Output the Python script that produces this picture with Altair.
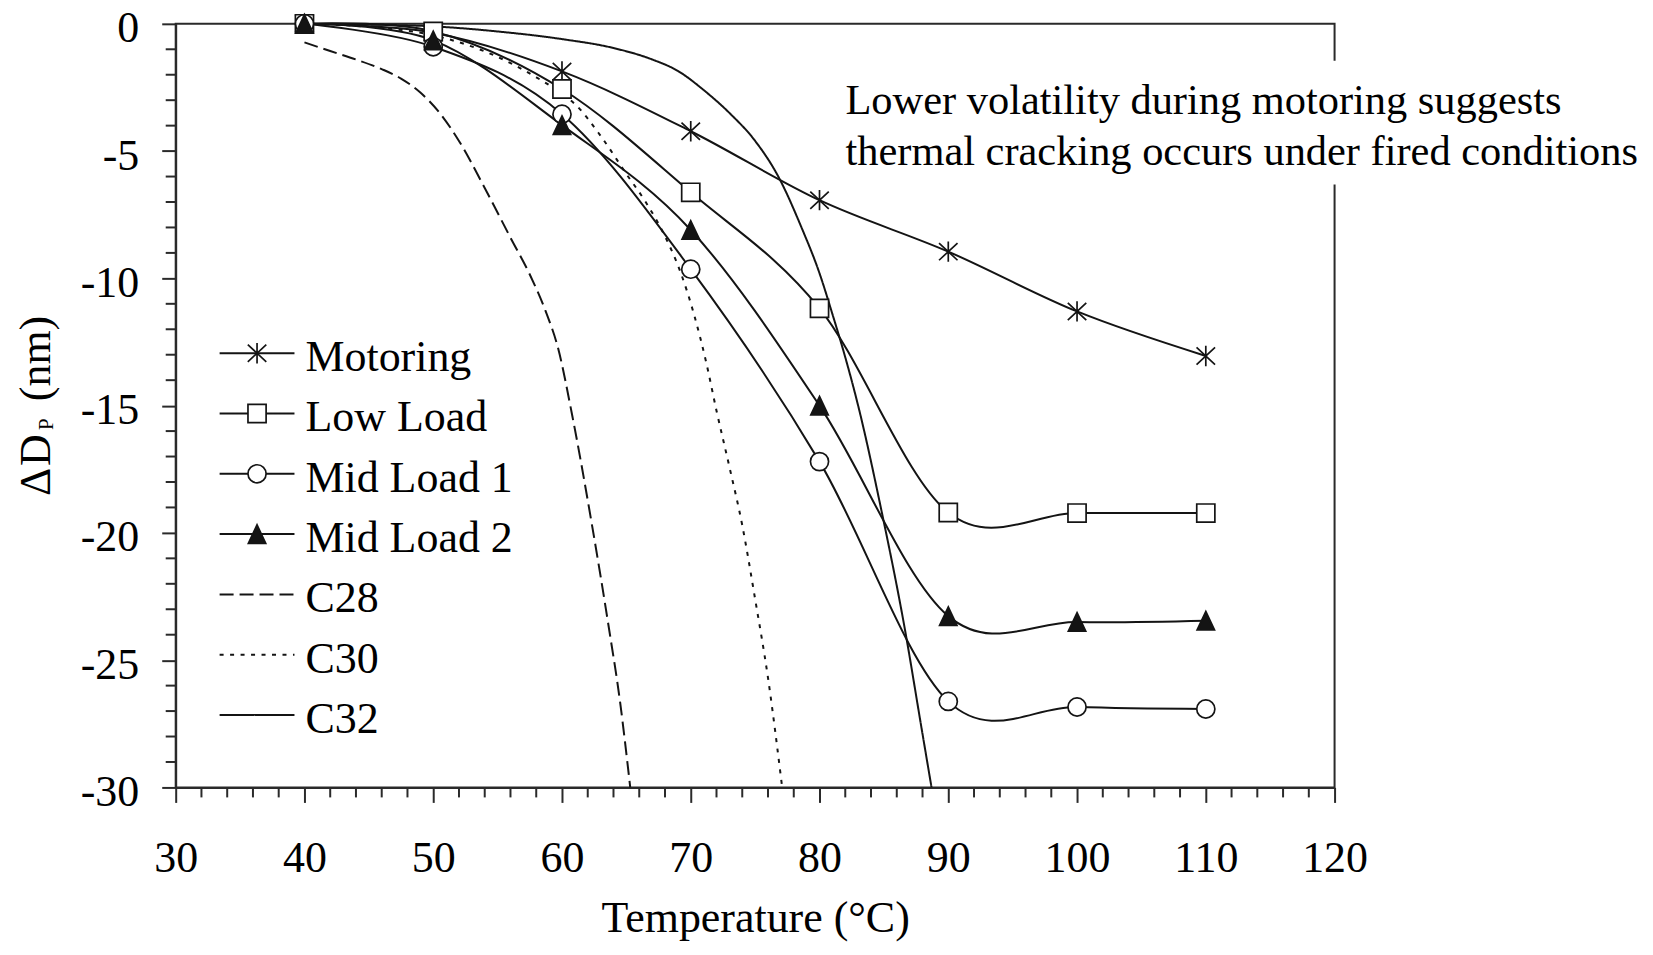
import altair as alt
import pandas as pd

# ---------------- data ----------------
temps = [40, 50, 60, 70, 80, 90, 100, 110]
motoring = [0, -0.35, -1.87, -4.22, -6.93, -8.95, -11.3, -13.05]
low_load = [0, -0.3, -2.56, -6.62, -11.18, -19.2, -19.22, -19.22]
mid_load_1 = [0, -0.9, -3.55, -9.64, -17.2, -26.62, -26.84, -26.92]
mid_load_2 = [0, -0.65, -3.98, -8.1, -15.0, -23.27, -23.5, -23.45]
measured_names = ["Motoring", "Low Load", "Mid Load 1", "Mid Load 2"]

c28_t = [40, 42, 44, 46, 47.5, 49, 50.5, 52, 54, 56, 57.5, 58.7, 59.7, 60.8, 62.3, 63.6, 64.5, 65.3]
c28_v = [-0.73, -1.07, -1.4, -1.78, -2.15, -2.7, -3.5, -4.6, -6.45, -8.4, -9.85, -11.25, -12.75, -15.4, -19.6, -23.6, -26.6, -30]
c30_t = [40, 45, 50, 55, 58, 60, 61, 63, 65, 66.5, 68, 69.2, 70.3, 71.2, 72, 73, 74, 75, 76, 77.1]
c30_v = [0, -0.12, -0.45, -1.3, -2.1, -2.75, -3.15, -4.4, -5.9, -7.0, -8.35, -9.75, -11.5, -13.3, -15.2, -17.4, -19.7, -22.6, -25.7, -30]
c32_t = [40, 45, 50, 55, 60, 64, 67, 69, 71, 73, 75, 76.8, 78.6, 80, 81, 82, 83, 84.8, 86.6, 87.9, 88.7]
c32_v = [0, -0.03, -0.1, -0.3, -0.6, -0.95, -1.4, -1.85, -2.6, -3.5, -4.6, -6.0, -8.0, -9.8, -11.4, -13.1, -15.0, -19.1, -23.7, -27.6, -30]
model_names = ["C28", "C30", "C32"]

x_ticks = [30, 40, 50, 60, 70, 80, 90, 100, 110, 120]
y_ticks = [-30, -25, -20, -15, -10, -5, 0]

x_title = "Temperature (°C)"
note_lines = ["Lower volatility during motoring suggests",
              "thermal cracking occurs under fired conditions"]

# ---------------- tables ----------------
meas_rows = []
for name, vals in zip(measured_names, [motoring, low_load, mid_load_1, mid_load_2]):
    for t, v in zip(temps, vals):
        meas_rows.append({"T": t, "V": v, "name": name})
meas = pd.DataFrame(meas_rows)

model_rows = []
for name, ts, vs in zip(model_names, [c28_t, c30_t, c32_t], [c28_v, c30_v, c32_v]):
    for i, (t, v) in enumerate(zip(ts, vs)):
        model_rows.append({"T": t, "V": v, "name": name, "i": i})
model = pd.DataFrame(model_rows)

# ---------------- layout / style ----------------
W, H = 1161, 765
XD, YD = [30, 120], [-30, 0]
pxT = W / (XD[1] - XD[0])
pxV = H / (YD[1] - YD[0])
FONT = "Liberation Serif"
AX = "#2a2a2a"
LINE = "#141414"

all_names = measured_names + model_names
leg_rows = []
for i, name in enumerate(all_names):
    ypx = 330 + 60.4 * i
    leg_rows.append({
        "name": name,
        "T": XD[0] + 44 / pxT,
        "T2": XD[0] + 119 / pxT,
        "Tm": XD[0] + 81.5 / pxT,
        "Tt": XD[0] + 130 / pxT,
        "V": -ypx / pxV,
    })
leg = pd.DataFrame(leg_rows)

xs = alt.Scale(domain=XD, nice=False, zero=False)
ys = alt.Scale(domain=YD, nice=False, zero=False)

x_axis = alt.Axis(values=x_ticks, tickSize=15, tickWidth=2, tickColor=AX,
                  domainColor=AX, domainWidth=2, grid=False,
                  labelFont=FONT, labelFontSize=44, labelColor="black",
                  labelPadding=34, labelAngle=0, labelFlush=False,
                  labelOverlap=False, labelBound=False,
                  title=x_title, titleFont=FONT, titleFontSize=44,
                  titleFontWeight="normal", titleColor="black",
                  titleBaseline="alphabetic", titleY=144)
y_axis = alt.Axis(values=y_ticks, tickSize=14, tickWidth=2, tickColor=AX,
                  domainColor=AX, domainWidth=2, grid=False,
                  labelFont=FONT, labelFontSize=44, labelColor="black",
                  labelPadding=23, labelOffset=5, labelFlush=False,
                  labelOverlap=False, labelBound=False,
                  labelExpr="datum.value + ''", title=None)

X = lambda f="T": alt.X(f"{f}:Q", scale=xs, axis=x_axis)
Y = lambda f="V": alt.Y(f"{f}:Q", scale=ys, axis=y_axis)

ASTER = "M0,-1.12L0,1.12M-1.02,-0.95L1.02,0.95M-1.02,0.95L1.02,-0.95"
TRI = "M0,-1.02L0.96,1.02L-0.96,1.02Z"
shape_scale = alt.Scale(domain=measured_names, range=[ASTER, "square", "circle", TRI])
fill_scale = alt.Scale(domain=measured_names, range=["white", "white", "white", LINE])
dash_scale = alt.Scale(domain=all_names,
                       range=[[1, 0], [1, 0], [1, 0], [1, 0], [14, 6], [4, 6.5], [1, 0]])

# minor ticks
x_minor = pd.DataFrame({"T": [v for v in range(32, 120, 2) if v % 10]})
y_minor = pd.DataFrame({"V": [v for v in range(-29, 0) if v % 5]})
xminor_layer = alt.Chart(x_minor).mark_rule(color=AX, strokeWidth=2).encode(
    x=X(), y=alt.value(H), y2=alt.value(H + 10))
yminor_layer = alt.Chart(y_minor).mark_rule(color=AX, strokeWidth=2).encode(
    y=Y(), x=alt.value(0), x2=alt.value(-10))

model_layer = alt.Chart(model).mark_line(interpolate="monotone", strokeWidth=2, color=LINE).encode(
    x=X(), y=Y(), detail="name:N", order="i:Q",
    strokeDash=alt.StrokeDash("name:N", scale=dash_scale, legend=None))

meas_lines = alt.Chart(meas).mark_line(interpolate="cardinal", tension=0, strokeWidth=2, color=LINE).encode(
    x=X(), y=Y(), detail="name:N", order="T:Q")

meas_points = alt.Chart(meas).mark_point(filled=True, stroke=LINE, strokeWidth=1.7,
                                         opacity=1, size=330).encode(
    x=X(), y=Y(),
    shape=alt.Shape("name:N", scale=shape_scale, legend=None),
    fill=alt.Fill("name:N", scale=fill_scale, legend=None))

leg_rules = alt.Chart(leg).mark_rule(strokeWidth=2, color=LINE).encode(
    x=X("T"), x2="T2:Q", y=Y("V"),
    strokeDash=alt.StrokeDash("name:N", scale=dash_scale, legend=None))

leg_points = alt.Chart(leg).transform_filter(
    alt.FieldOneOfPredicate(field="name", oneOf=measured_names)
).mark_point(filled=True, stroke=LINE, strokeWidth=1.7, opacity=1, size=330).encode(
    x=X("Tm"), y=Y("V"),
    shape=alt.Shape("name:N", scale=shape_scale, legend=None),
    fill=alt.Fill("name:N", scale=fill_scale, legend=None))

leg_text = alt.Chart(leg).mark_text(font=FONT, fontSize=44, color="black", align="left",
                                    baseline="alphabetic", dy=18).encode(
    x=X("Tt"), y=Y("V"), text="name:N")

# annotation with white box
box = alt.Chart(pd.DataFrame({"k": [0]})).mark_rect(fill="white").encode(
    x=alt.value(655), x2=alt.value(1480), y=alt.value(37), y2=alt.value(161))
note1 = alt.Chart(pd.DataFrame({"s": [note_lines[0]]})).mark_text(
    font=FONT, fontSize=42.5, color="black", align="left", baseline="alphabetic").encode(
    x=alt.value(671), y=alt.value(90), text="s:N")
note2 = alt.Chart(pd.DataFrame({"s": [note_lines[1]]})).mark_text(
    font=FONT, fontSize=42.5, color="black", align="left", baseline="alphabetic").encode(
    x=alt.value(671), y=alt.value(141), text="s:N")

# y-axis title: "Δ D" + subscript "P" + "(nm)"
def ytxt(s, size, x, y):
    return alt.Chart(pd.DataFrame({"s": [s]})).mark_text(
        font=FONT, fontSize=size, color="black", align="left",
        baseline="alphabetic", angle=270).encode(
        x=alt.value(x), y=alt.value(y), text="s:N")

yt0 = ytxt("\u0394", 44, -126, 473)
yt1 = ytxt("D", 44, -126, 443)
yt2 = ytxt("P", 21, -123, 407)
yt3 = ytxt("(nm)", 44, -126, 378)

chart = alt.layer(
    xminor_layer, yminor_layer, model_layer, meas_lines, meas_points,
    leg_rules, leg_points, leg_text, box, note1, note2, yt0, yt1, yt2, yt3
).properties(
    width=W, height=H,
    autosize=alt.AutoSizeParams(type="none"),
    padding={"left": 168, "top": 15, "right": 311, "bottom": 154},
    background="white",
).configure_view(stroke=AX, strokeWidth=2)

chart.save("out.html", embed_options={"renderer": "svg", "actions": False})
